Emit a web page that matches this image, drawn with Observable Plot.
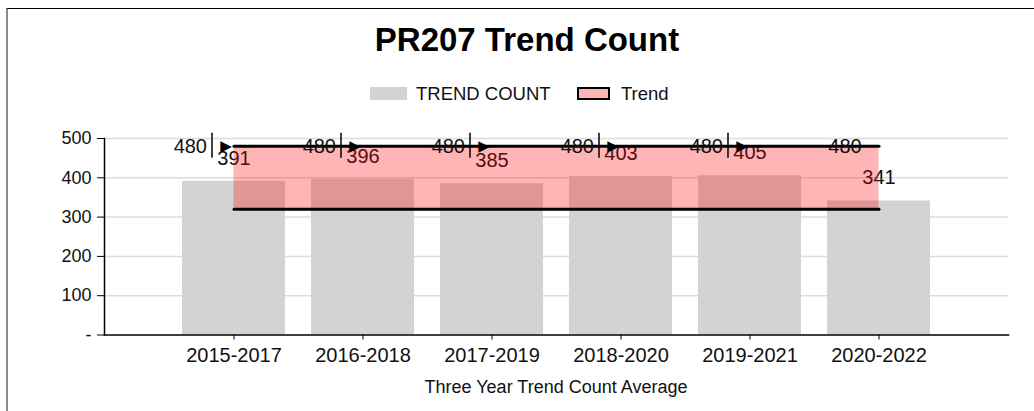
<!DOCTYPE html>
<html>
<head>
<meta charset="utf-8">
<script src="https://cdn.jsdelivr.net/npm/d3@7"></script>
<script src="https://cdn.jsdelivr.net/npm/@observablehq/plot@0.6"></script>
<style>
  html, body { margin: 0; padding: 0; background: #fff; }
  body { width: 1034px; height: 411px; position: relative; overflow: hidden; font-family: Arial, "Liberation Sans", sans-serif; }
  #frame { position: absolute; left: 6px; top: 8px; right: 0; bottom: 0; border-top: 1px solid #000; border-left: 2px solid #8a8a8a; }
  #title { position: absolute; left: 20px; width: 1014px; top: 20px; text-align: center; font-size: 33px; font-weight: bold; color: #000; line-height: 40px; }
  #legend { position: absolute; left: 0; width: 1034px; top: 82px; height: 24px; }
  .sw { position: absolute; top: 5px; height: 13px; box-sizing: border-box; }
  .lt { position: absolute; top: 0; font-size: 18.5px; line-height: 24px; color: #111; }
  #chart { position: absolute; left: 0; top: 110px; }
  #xlabel { position: absolute; left: 104px; width: 904px; top: 375px; text-align: center; font-size: 18px; line-height: 24px; color: #111; }
</style>
</head>
<body>
<div id="frame"></div>
<div id="title">PR207 Trend Count</div>
<div id="legend">
  <div class="sw" style="left:370px;width:37px;background:#d3d3d3;"></div>
  <div class="lt" style="left:416px;">TREND COUNT</div>
  <div class="sw" style="left:577px;width:33px;background:#ffb6b6;border:2px solid #000;"></div>
  <div class="lt" style="left:621px;">Trend</div>
</div>
<div id="chart"></div>
<div id="xlabel">Three Year Trend Count Average</div>
<script>
const categories = ["2015-2017", "2016-2018", "2017-2019", "2018-2020", "2019-2021", "2020-2022"];
const trendCount = [391, 396, 385, 403, 405, 341];
const trendUpper = [480, 480, 480, 480, 480, 480];
const trendLower = [320, 320, 320, 320, 320, 320];
const yTicks = [0, 100, 200, 300, 400, 500];

const data = categories.map((c, i) => ({cat: c, count: trendCount[i], upper: trendUpper[i], lower: trendLower[i]}));
const firstFive = data.slice(0, 5);
const last = data.slice(5);

const font = 'Arial, "Liberation Sans", sans-serif';

const chart = Plot.plot({
  width: 1034,
  height: 260,
  marginLeft: 104,
  marginRight: 26,
  marginTop: 28,
  marginBottom: 35.5,
  style: {fontFamily: font, background: "transparent", overflow: "visible"},
  x: {type: "band", domain: categories, paddingInner: 0.2, paddingOuter: 0.6},
  y: {domain: [0, 500]},
  marks: [
    Plot.gridY(yTicks.filter(d => d > 0), {stroke: "#dcdcdc", strokeOpacity: 1, strokeWidth: 1.5}),
    Plot.barY(data, {x: "cat", y: "count", fill: "#d3d3d3"}),
    Plot.text(data, {x: "cat", y: "count", text: d => String(d.count), dy: -23, fontSize: 20, fill: "#111"}),
    Plot.areaY(data, {x: "cat", y1: "lower", y2: "upper", fill: "red", fillOpacity: 0.29}),
    Plot.line(data, {x: "cat", y: "upper", stroke: "#000", strokeWidth: 3}),
    Plot.line(data, {x: "cat", y: "lower", stroke: "#000", strokeWidth: 3}),
    Plot.ruleX(firstFive, {x: "cat", y1: "upper", y2: "upper", insetTop: 12, insetBottom: 13, dx: -22, stroke: "#000", strokeWidth: 1.5}),
    Plot.text(firstFive, {x: "cat", y: "upper", text: () => "\u25B6", dx: -8, fontSize: 15, fill: "#000", fontFamily: "DejaVu Sans"}),
    Plot.text(firstFive, {x: "cat", y: "upper", text: d => String(d.upper), textAnchor: "end", dx: -27, fontSize: 20, fill: "#111"}),
    Plot.text(last, {x: "cat", y: "upper", text: d => String(d.upper), dx: -34, fontSize: 20, fill: "#111"}),
    Plot.frame({anchor: "left", stroke: "#000", strokeWidth: 1.5}),
    Plot.frame({anchor: "bottom", stroke: "#000", strokeWidth: 1.5}),
    Plot.axisY({ticks: yTicks, tickFormat: d => d === 0 ? "-" : String(d), tickSize: 7, tickPadding: 6, fontSize: 18, label: null, stroke: "#000", color: "#111"}),
    Plot.axisX({tickSize: 5, tickPadding: 7.5, fontSize: 20, label: null, stroke: "#000", color: "#111"})
  ]
});
document.getElementById("chart").appendChild(chart);
</script>
</body>
</html>
